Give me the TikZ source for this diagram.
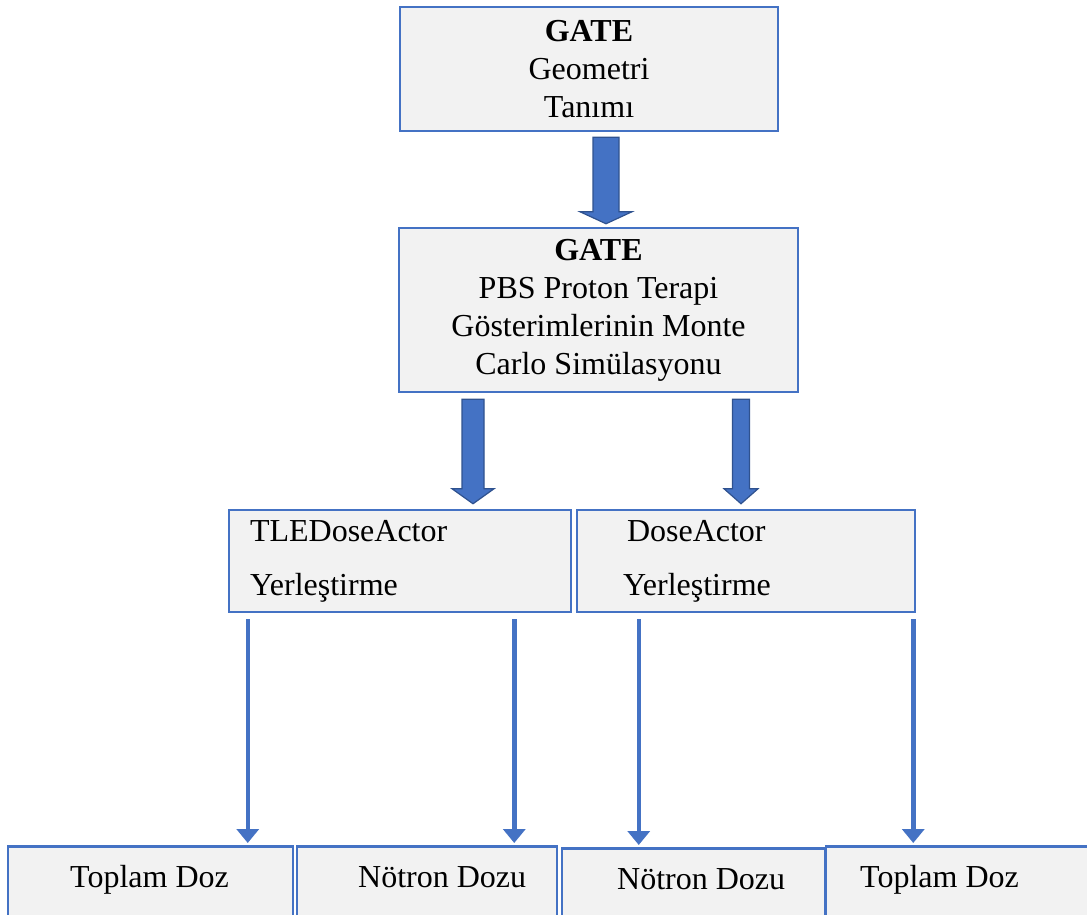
\documentclass[tikz,border=0pt]{standalone}
\usepackage{fontspec}
\setmainfont{Liberation Serif}
\usetikzlibrary{arrows.meta,calc}
\definecolor{boxblue}{HTML}{4472C4}
\definecolor{arrdark}{HTML}{2F528F}
\definecolor{boxfill}{HTML}{F2F2F2}
\newcommand\blkarrow[5]{\draw[blockarr] ($(#1)+(-#3,0)$) -- ($(#1)+(#3,0)$) -- ($(#2)+(#3,-#5)$) -- ($(#2)+(#4,-#5)$) -- (#2) -- ($(#2)+(-#4,-#5)$) -- ($(#2)+(-#3,-#5)$) -- cycle;}
\begin{document}
\begin{tikzpicture}[x=1pt,y=-1pt,
  box/.style={draw=boxblue, fill=boxfill, line width=2.5pt, inner sep=0pt, font=\fontsize{32}{38}\selectfont},
  blockarr/.style={fill=boxblue, draw=arrdark, line width=1.2pt, line join=miter},
  thinarr/.style={draw=boxblue, line width=4.5pt, -{Triangle[width=22pt,length=14pt]}, shorten >=2pt},
  lbl/.style={font=\fontsize{32}{38}\selectfont, inner sep=0pt}]
\useasboundingbox (0,0) rectangle (1087,914);
\clip (0,0) rectangle (1087,914);
% boxes
\node[box, minimum width=378, minimum height=124, align=center] (top) at (589,69) {\textbf{GATE}\\Geometri\\Tanımı};
\node[box, minimum width=399, minimum height=164, align=center] (sim) at (598.5,310) {\textbf{GATE}\\PBS Proton Terapi\\Gösterimlerinin Monte\\Carlo Simülasyonu};
\node[box, text width=300, inner xsep=21, minimum height=102, align=left] (tle) at (400,561) {TLEDoseActor\\[16pt]Yerleştirme};
\node[box, text width=246, inner xsep=46, minimum height=102, align=left] (dose) at (746,561) {\hspace*{4pt}DoseActor\\[16pt]Yerleştirme};
\node[box, anchor=north, minimum width=285, minimum height=120] (b1) at (150.5,845) {};
\node[box, anchor=north, minimum width=260, minimum height=120] (b2) at (427,845) {};
\node[box, anchor=north, minimum width=263, minimum height=120] (b3) at (693.5,847) {};
\node[box, anchor=north, minimum width=274, minimum height=120] (b4) at (963,845) {};
\node[lbl, anchor=base west] (t1) at (70,887) {Toplam Doz};
\node[lbl, anchor=base west] (t2) at (358,887) {Nötron Dozu};
\node[lbl, anchor=base west] (t3) at (617,889) {Nötron Dozu};
\node[lbl, anchor=base west] (t4) at (860,887) {Toplam Doz};
% block arrows
\coordinate (a1s) at ($(top.south)+(17,5)$);
\coordinate (a1e) at ($(sim.north)+(7.5,-3)$);
\coordinate (a2s) at ($(sim.south)+(-125.5,6)$);
\coordinate (a2e) at ($(tle.north)+(73,-5)$);
\coordinate (a3s) at ($(sim.south)+(142.5,6)$);
\coordinate (a3e) at ($(dose.north)+(-5,-5)$);
\blkarrow{a1s}{a1e}{13}{26}{12}
\blkarrow{a2s}{a2e}{11}{21}{15}
\blkarrow{a3s}{a3e}{8.5}{17}{15}
% thin arrows
\coordinate (s1) at ($(tle.south west)+(20,6)$);
\coordinate (s2) at ($(tle.south east)+(-58,6)$);
\coordinate (s3) at ($(dose.south west)+(63,6)$);
\coordinate (s4) at ($(dose.south east)+(-3,6)$);
\draw[thinarr] (s1) -- (s1 |- b1.north);
\draw[thinarr] (s2) -- (s2 |- b2.north);
\draw[thinarr] (s3) -- (s3 |- b3.north);
\draw[thinarr] (s4) -- (s4 |- b4.north);
\end{tikzpicture}
\end{document}
